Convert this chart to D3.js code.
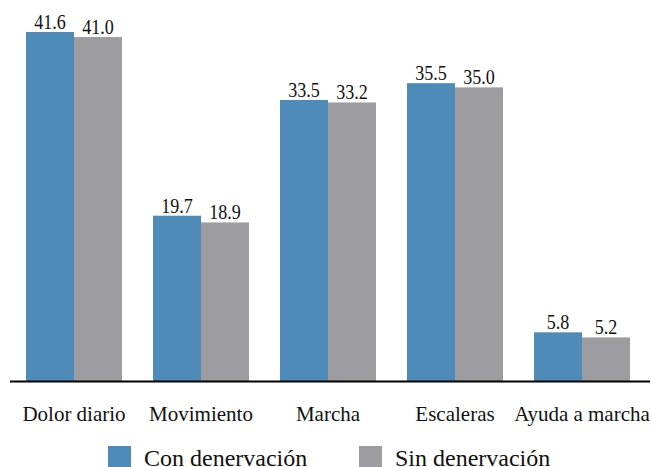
<!DOCTYPE html>
<html>
<head>
<meta charset="utf-8">
<script src="https://cdn.jsdelivr.net/npm/d3@7"></script>
<style>
  body { margin: 0; background: #fff; }
</style>
</head>
<body>
<div id="chart"></div>
<script>
var width = 651,
    height = 467;

var categories = ["Dolor diario", "Movimiento", "Marcha", "Escaleras", "Ayuda a marcha"];
var series = ["Con denervación", "Sin denervación"];
var conValues = [41.6, 19.7, 33.5, 35.5, 5.8];
var sinValues = [41.0, 18.9, 33.2, 35.0, 5.2];
var colors = ["#4e8bb8", "#9d9ca1"];

var serif = "Liberation Serif";
var baseline = 381;

var x = d3.scaleBand()
    .domain(categories)
    .range([10, 646])
    .paddingInner(0.244)
    .paddingOuter(0.126);

var xs = d3.scaleBand()
    .domain(series)
    .range([0, x.bandwidth()]);

var y = d3.scaleLinear()
    .domain([0, 41.6])
    .range([baseline, 32]);

var color = d3.scaleOrdinal().domain(series).range(colors);

var svg = d3.select("#chart").append("svg")
    .attr("width", width)
    .attr("height", height);

var rows = categories.map(function(c, i) {
    return { cat: c, vals: [
        { s: series[0], v: conValues[i] },
        { s: series[1], v: sinValues[i] }
    ]};
});

var groups = svg.selectAll("g.grp")
    .data(rows)
    .enter().append("g")
    .attr("class", "grp")
    .attr("transform", function(d) { return "translate(" + x(d.cat) + ",0)"; });

groups.selectAll("rect")
    .data(function(d) { return d.vals; })
    .enter().append("rect")
    .attr("x", function(d) { return xs(d.s); })
    .attr("y", function(d) { return y(d.v); })
    .attr("width", xs.bandwidth())
    .attr("height", function(d) { return baseline - y(d.v); })
    .attr("fill", function(d) { return color(d.s); });

// value labels, slightly condensed like the original
groups.selectAll("text.val")
    .data(function(d) { return d.vals; })
    .enter().append("text")
    .attr("class", "val")
    .attr("transform", function(d) {
        return "translate(" + (xs(d.s) + xs.bandwidth() / 2) + "," + (y(d.v) - 3) + ") scale(0.86,1)";
    })
    .attr("text-anchor", "middle")
    .style("font-family", serif)
    .style("font-size", "21px")
    .attr("fill", "#111")
    .text(function(d) { return d.v.toFixed(1); });

// x axis line
svg.append("line")
    .attr("x1", 10)
    .attr("x2", 650)
    .attr("y1", baseline + 0.5)
    .attr("y2", baseline + 0.5)
    .attr("stroke", "#000")
    .attr("stroke-width", 2);

svg.selectAll("text.cat")
    .data(categories)
    .enter().append("text")
    .attr("class", "cat")
    .attr("x", function(d) { return x(d) + x.bandwidth() / 2; })
    .attr("y", 421)
    .attr("text-anchor", "middle")
    .style("font-family", serif)
    .style("font-size", "21px")
    .attr("fill", "#111")
    .text(function(d) { return d; });

// legend
var legendX = [108, 359];
var legend = svg.selectAll("g.leg")
    .data(series)
    .enter().append("g")
    .attr("class", "leg")
    .attr("transform", function(d, i) { return "translate(" + legendX[i] + ",446)"; });

legend.append("rect")
    .attr("width", 23)
    .attr("height", 23)
    .attr("fill", function(d) { return color(d); });

legend.append("text")
    .attr("x", 36)
    .attr("y", 19.5)
    .style("font-family", serif)
    .style("font-size", "24px")
    .attr("fill", "#111")
    .text(function(d) { return d; });
</script>
</body>
</html>
